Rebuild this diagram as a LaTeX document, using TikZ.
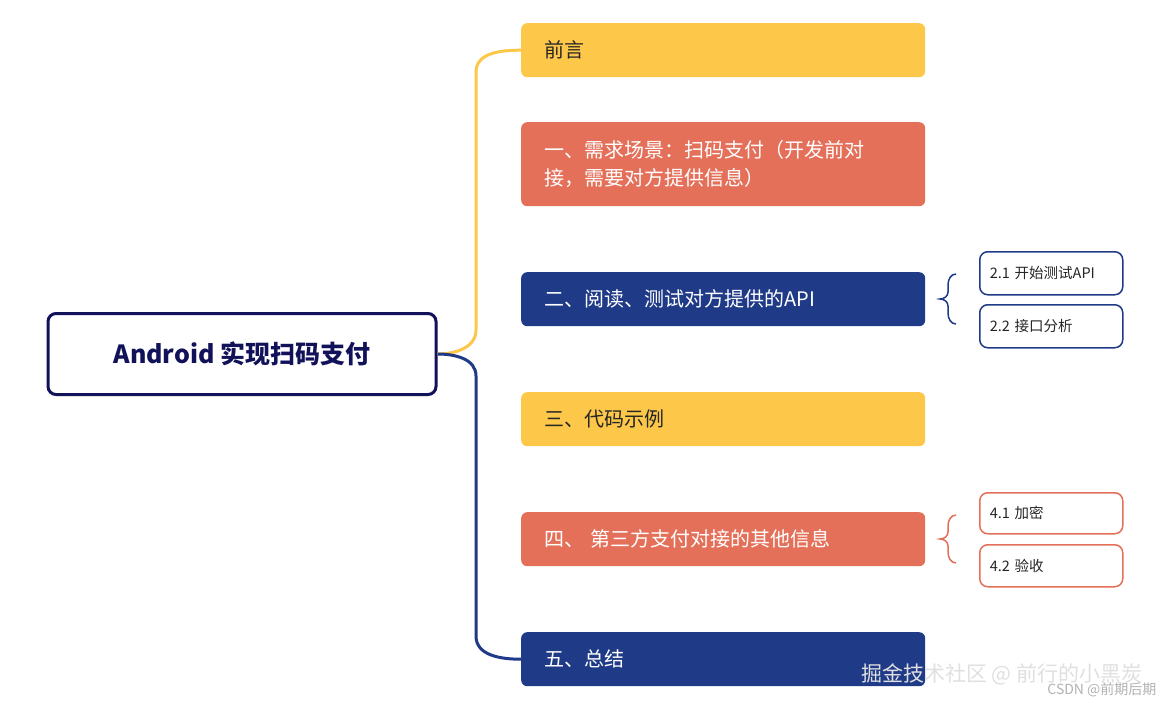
\documentclass[tikz,border=0pt]{standalone}
\usepackage{fontspec}
\setmainfont{Noto Sans CJK SC}
\definecolor{navy}{HTML}{1F3A87}
\definecolor{ylw}{HTML}{FDC84A}
\definecolor{rd}{HTML}{E4705A}
\definecolor{rootc}{HTML}{12125A}
\begin{document}
\begin{tikzpicture}[x=1pt,y=-1pt,
  br/.style={rounded corners=6pt,text width=358pt,align=left,inner ysep=0pt,inner xsep=22pt,minimum width=404pt,font=\fontsize{20}{28}\selectfont,anchor=north west},
  sub/.style={draw,line width=1.5pt,rounded corners=8pt,fill=white,text width=123pt,align=left,inner ysep=0pt,inner xsep=9pt,minimum width=143pt,font=\fontsize{14.5}{16}\selectfont,anchor=north west}]
\useasboundingbox (0,0) rectangle (1165,709);
\fill[white] (0,0) rectangle (1165,709);
\node[draw=rootc,line width=3pt,rounded corners=8pt,minimum width=388pt,minimum height=81pt,font=\fontsize{25}{30}\selectfont\bfseries,text=rootc] (root) at (242,354) {Android 实现扫码支付};
\node[br,fill=ylw,minimum height=54pt,text=black!85] (b0) at (521,23) {前言};
\node[br,fill=rd,minimum height=84pt,text=white] (b1) at (521,122) {一、需求场景：扫码支付（开发前对\\接，需要对方提供信息）};
\node[br,fill=navy,minimum height=54pt,text=white] (b2) at (521,272) {二、阅读、测试对方提供的API};
\node[br,fill=ylw,minimum height=54pt,text=black!85] (b3) at (521,392) {三、代码示例};
\node[br,fill=rd,minimum height=54pt,text=white] (b4) at (521,512) {四、 第三方支付对接的其他信息};
\node[br,fill=navy,minimum height=54pt,text=white] (b5) at (521,632) {五、总结};
\node[sub,draw=navy,minimum height=43pt,text=black!85] (s21) at (979,251) {2.1 开始测试API};
\node[sub,draw=navy,minimum height=43pt,text=black!85] (s22) at (979,304) {2.2 接口分析};
\node[sub,draw=rd,minimum height=41pt,text=black!85] (s41) at (979,492) {4.1 加密};
\node[sub,draw=rd,minimum height=42pt,text=black!85] (s42) at (979,544) {4.2 验收};
\draw[ylw,line width=3pt] (root.east) to[out=0,in=-90] (476,330) -- (476,72) to[out=90,in=180] (b0.west);
\draw[navy,line width=3pt] (root.east) to[out=0,in=90] (476,376) -- (476,636) to[out=-90,in=180] (b5.west);
\draw[navy,line width=1.5pt] (956,274) to[out=180,in=90] (948,285) -- (948,292) to[out=-90,in=0] (940,299) to[out=0,in=90] (948,306) -- (948,313) to[out=-90,in=180] (956,324);
\draw[rd,line width=1.5pt] (956,515) to[out=180,in=90] (948,526) -- (948,532) to[out=-90,in=0] (940,539) to[out=0,in=90] (948,546) -- (948,552) to[out=-90,in=180] (956,563);
\node[text=black!12,font=\fontsize{21}{24}\selectfont,anchor=east] (wm1) at (1146,674) {掘金技术社区 @ 前行的小黑炭};
\node[text=black!30,font=\fontsize{14}{16}\selectfont,anchor=east] (wm2) at (1160,690) {CSDN @前期后期};
\end{tikzpicture}
\end{document}
